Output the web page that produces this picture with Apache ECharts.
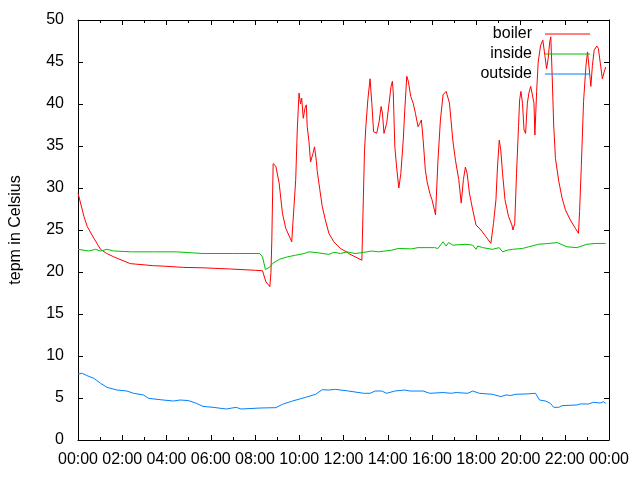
<!DOCTYPE html>
<html>
<head>
<meta charset="utf-8">
<script src="https://cdn.jsdelivr.net/npm/echarts@6/dist/echarts.min.js"></script>
<style>html,body{margin:0;padding:0;background:#fff}#chart{width:640px;height:480px}</style>
</head>
<body>
<div id="chart"></div>
<script>
// time of day in hours (0-24)
const xTickHours = [0, 2, 4, 6, 8, 10, 12, 14, 16, 18, 20, 22, 24];
const seriesNames = ['boiler', 'inside', 'outside'];

const boilerTime = [0, 0.27, 0.42, 0.72, 1.02, 1.30, 1.62, 2.36, 3.41, 3.86,
  4.76, 5.65, 6.85, 8.03, 8.34, 8.49, 8.67, 8.72, 8.76, 8.82,
  8.94, 9.09, 9.24, 9.39, 9.66, 9.84, 9.91, 9.99, 10.06, 10.11,
  10.18, 10.26, 10.32, 10.36, 10.44, 10.51, 10.62, 10.69, 10.77, 10.81,
  10.93, 11.04, 11.18, 11.34, 11.56, 11.86, 12.13, 12.23, 12.53, 12.83,
  12.88, 12.95, 13.01, 13.10, 13.20, 13.28, 13.36, 13.50, 13.61, 13.70,
  13.76, 13.83, 13.95, 14.06, 14.15, 14.21, 14.25, 14.32, 14.40, 14.50,
  14.59, 14.70, 14.77, 14.86, 14.93, 15.04, 15.15, 15.25, 15.37, 15.45,
  15.52, 15.60, 15.70, 15.79, 15.90, 16.00, 16.16, 16.27, 16.38, 16.50,
  16.64, 16.72, 16.79, 16.94, 17.06, 17.21, 17.32, 17.42, 17.51, 17.59,
  17.69, 17.84, 17.99, 18.21, 18.44, 18.66, 18.78, 18.89, 18.96, 19.04,
  19.11, 19.19, 19.30, 19.46, 19.61, 19.66, 19.74, 19.82, 19.91, 19.96,
  20.02, 20.09, 20.16, 20.23, 20.31, 20.38, 20.46, 20.53, 20.61, 20.65,
  20.73, 20.80, 20.91, 21.01, 21.10, 21.18, 21.25, 21.32, 21.37, 21.43,
  21.50, 21.58, 21.73, 21.88, 22.03, 22.25, 22.48, 22.62, 22.67, 22.75,
  22.85, 22.96, 23.03, 23.12, 23.18, 23.25, 23.33, 23.45, 23.52, 23.60,
  23.70, 23.78, 23.85];
const boilerTemp = [29.4, 26.6, 25.4, 24.0, 22.7, 22.2, 21.8, 21.0, 20.75, 20.7,
  20.55, 20.5, 20.36, 20.2, 20.15, 18.85, 18.25, 19.9, 23.8, 32.9,
  32.6, 30.6, 27.0, 25.2, 23.6, 31.0, 36.9, 41.3, 40.0, 40.7,
  38.3, 39.5, 39.9, 37.3, 35.5, 33.1, 34.1, 34.9, 33.3, 32.1,
  29.8, 27.8, 26.2, 24.6, 23.6, 22.8, 22.4, 22.2, 21.8, 21.4,
  27.0, 34.5, 37.3, 40.5, 43.0, 40.1, 36.7, 36.5, 37.9, 39.7,
  38.9, 36.5, 37.7, 40.1, 42.1, 42.7, 41.3, 34.9, 32.5, 30.0,
  31.7, 35.7, 39.3, 43.3, 42.7, 40.9, 40.1, 38.9, 37.3, 37.7,
  38.1, 35.7, 32.1, 30.6, 29.4, 28.6, 26.8, 33.3, 38.1, 41.1,
  41.5, 41.3, 40.1, 35.7, 33.3, 31.0, 28.2, 31.0, 32.5, 31.7,
  29.4, 27.4, 25.6, 25.0, 24.2, 23.4, 25.8, 28.6, 32.5, 35.7,
  34.5, 31.7, 28.6, 26.6, 25.6, 25.0, 25.8, 31.7, 37.3, 40.5,
  41.5, 40.1, 36.9, 36.5, 40.1, 41.3, 42.1, 42.3, 40.1, 36.3,
  41.5, 45.0, 47.0, 47.6, 45.8, 44.2, 45.4, 47.4, 48.0, 43.5,
  37.5, 33.5, 30.8, 28.8, 27.4, 26.2, 25.2, 24.6, 27.2, 32.7,
  40.3, 44.6, 46.2, 43.8, 42.1, 44.6, 46.4, 46.9, 46.6, 45.0,
  43.0, 43.8, 44.4];

const insideTime = [0, 0.49, 0.79, 1.02, 1.31, 1.62, 2.42, 3.41, 4.44, 5.65,
  7.0, 8.21, 8.34, 8.47, 8.65, 8.79, 9.09, 9.46, 9.84, 10.22,
  10.44, 10.81, 11.34, 11.56, 11.86, 12.16, 12.52, 12.83, 13.28, 13.58,
  14.18, 14.48, 15.07, 15.37, 16.12, 16.27, 16.50, 16.64, 16.75, 16.94,
  17.54, 17.84, 17.99, 18.07, 18.29, 18.74, 19.04, 19.19, 19.41, 19.64,
  20.09, 20.37, 20.82, 21.27, 21.66, 22.10, 22.55, 23.0, 23.42, 23.85];
const insideTemp = [22.7, 22.5, 22.7, 22.5, 22.7, 22.5, 22.4, 22.4, 22.4, 22.2,
  22.2, 22.2, 21.8, 20.3, 20.55, 21.0, 21.5, 21.8, 22.0, 22.2,
  22.4, 22.3, 22.1, 22.35, 22.2, 22.4, 22.2, 22.3, 22.5, 22.4,
  22.6, 22.8, 22.75, 22.9, 22.9, 22.8, 23.6, 23.1, 23.5, 23.2,
  23.3, 23.2, 22.7, 23.1, 22.9, 22.7, 22.9, 22.4, 22.6, 22.7,
  22.8, 23.0, 23.3, 23.4, 23.5, 23.0, 22.9, 23.3, 23.4, 23.4];

const outsideTime = [0, 0.19, 0.42, 0.72, 1.02, 1.31, 1.76, 2.21, 2.51, 2.96,
  3.19, 3.71, 4.31, 4.61, 4.98, 5.35, 5.65, 6.10, 6.70, 7.15,
  7.37, 8.27, 8.94, 9.24, 9.69, 10.29, 10.74, 11.04, 11.34, 11.63,
  12.23, 12.91, 13.20, 13.43, 13.73, 13.95, 14.32, 14.77, 15.0, 15.60,
  15.90, 16.50, 16.87, 17.09, 17.62, 17.84, 18.14, 18.74, 19.11, 19.34,
  19.56, 19.78, 20.38, 20.68, 20.86, 21.13, 21.35, 21.50, 21.73, 21.88,
  22.55, 22.70, 23.07, 23.30, 23.60, 23.75, 23.85];
const outsideTemp = [7.86, 7.94, 7.65, 7.34, 6.75, 6.27, 5.95, 5.83, 5.56, 5.36,
  4.96, 4.8, 4.64, 4.76, 4.7, 4.37, 4.0, 3.89, 3.69, 3.89,
  3.69, 3.81, 3.85, 4.25, 4.64, 5.08, 5.44, 5.99, 5.95, 6.03,
  5.83, 5.56, 5.56, 5.83, 5.83, 5.56, 5.83, 5.95, 5.83, 5.83,
  5.56, 5.65, 5.56, 5.65, 5.56, 5.83, 5.56, 5.44, 5.16, 5.36,
  5.3, 5.44, 5.5, 5.56, 4.76, 4.64, 4.37, 3.89, 3.89, 4.09,
  4.17, 4.29, 4.29, 4.49, 4.4, 4.56, 4.37];

const FONT = "'Liberation Sans', Arial, sans-serif";
const pairs = (t, v) => t.map((h, i) => [h, v[i]]);
const hourLabel = h => String(h % 24).padStart(2, '0') + ':00';

const axisBase = {
  axisLine: { show: true, onZero: false, lineStyle: { color: '#000', width: 1 } },
  axisTick: { show: true, inside: true, length: 5, lineStyle: { color: '#000', width: 1 } },
  splitLine: { show: false }
};

const xBase = Object.assign({}, axisBase, {
  type: 'value', min: xTickHours[0], max: xTickHours[xTickHours.length - 1], interval: 2,
  minorTick: { show: true, splitNumber: 2, length: 3, lineStyle: { color: '#000', width: 1 } }
});
const yBase = Object.assign({}, axisBase, { type: 'value', min: 0, max: 50, interval: 5 });

const chart = echarts.init(document.getElementById('chart'), null, { renderer: 'canvas' });
chart.setOption({
  animation: false,
  backgroundColor: '#fff',
  textStyle: { fontFamily: FONT },
  grid: { left: 74, right: 31, top: 20, bottom: 40, containLabel: false },
  legend: {
    orient: 'vertical', align: 'right', right: 50, top: 26, padding: 0,
    itemWidth: 45, itemHeight: 1, itemGap: 4, icon: 'rect',
    selectedMode: false,
    textStyle: { fontSize: 16, color: '#000', fontFamily: FONT, padding: [0, 8, 0, 0] },
    data: seriesNames
  },
  xAxis: [
    Object.assign({}, xBase, {
      position: 'bottom',
      axisLabel: { show: true, formatter: hourLabel, fontSize: 16, color: '#000', margin: 12, fontFamily: FONT }
    }),
    Object.assign({}, xBase, { position: 'top', axisLabel: { show: false } })
  ],
  yAxis: [
    Object.assign({}, yBase, {
      position: 'left',
      name: 'tepm in Celsius', nameLocation: 'middle', nameGap: 54,
      nameTextStyle: { fontSize: 16, color: '#000', fontFamily: FONT },
      axisLabel: { show: true, fontSize: 16, color: '#000', margin: 14, fontFamily: FONT }
    }),
    Object.assign({}, yBase, { position: 'right', axisLabel: { show: false } })
  ],
  series: [
    { name: seriesNames[0], type: 'line', data: pairs(boilerTime, boilerTemp), color: '#ff0000' },
    { name: seriesNames[1], type: 'line', data: pairs(insideTime, insideTemp), color: '#00c000' },
    { name: seriesNames[2], type: 'line', data: pairs(outsideTime, outsideTemp), color: '#0080ff' }
  ].map(s => Object.assign(s, {
    xAxisIndex: 0, yAxisIndex: 0, symbol: 'none', showSymbol: false,
    lineStyle: { width: 1, color: s.color }, itemStyle: { color: s.color },
    emphasis: { disabled: true }
  }))
});
</script>
</body>
</html>
